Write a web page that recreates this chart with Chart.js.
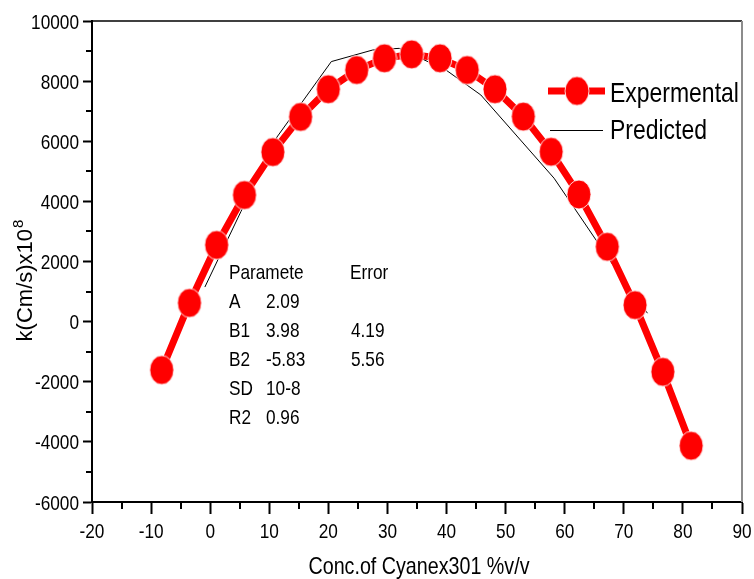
<!DOCTYPE html>
<html>
<head>
<meta charset="utf-8">
<script src="https://cdn.jsdelivr.net/npm/chart.js@4.4.1/dist/chart.umd.min.js"></script>
<style>
  body { margin: 0; background: #fff; }
  canvas { display: block; }
</style>
</head>
<body>
<canvas id="chart" width="754" height="579"></canvas>
<script>
// measured rate constants vs. Cyanex301 concentration
const expX = [-8.2, -3.5, 1.1, 5.8, 10.6, 15.3, 20.0, 24.8, 29.5, 34.1,
  38.9, 43.5, 48.2, 53.0, 57.7, 62.4, 67.2, 71.9, 76.6, 81.4];
const expY = [-1610, 620, 2550, 4210, 5640, 6810, 7730, 8370, 8760, 8890,
  8760, 8370, 7730, 6820, 5650, 4230, 2490, 550, -1670, -4130];

// model curve
const predX = [-0.9, 5.2, 11.3, 20.5, 27.5, 32.0, 39.9, 45.8, 58.2, 67.8, 74.0];
const predY = [1150, 3660, 6140, 8650, 9035, 9090, 8370, 7540, 4770, 1990, 280];

const xTicks = [-20, 90, 10];   // min, max, step
const yTicks = [-6000, 10000, 2000];

// fit parameters shown in the box
const paramRows = [
  ["A", "2.09", ""],
  ["B1", "3.98", "4.19"],
  ["B2", "-5.83", "5.56"],
  ["SD", "10-8", ""],
  ["R2", "0.96", ""],
];

const SANS = "'Liberation Sans', Arial, sans-serif";
const SQUEEZE = 0.82; // narrow face look

// text drawn horizontally squeezed
function narrowText(ctx, text, x, y, size, align) {
  ctx.save();
  ctx.translate(x, y);
  ctx.scale(SQUEEZE, 1);
  ctx.font = size + "px " + SANS;
  ctx.textAlign = align || "left";
  ctx.textBaseline = "alphabetic";
  ctx.fillText(text, 0, 0);
  ctx.restore();
}

// oval marker, a bit taller than wide
function makeDot(w, h) {
  const c = document.createElement("canvas");
  c.width = w + 2;
  c.height = h + 2;
  const g = c.getContext("2d");
  g.beginPath();
  g.ellipse(c.width / 2, c.height / 2, w / 2, h / 2, 0, 0, Math.PI * 2);
  g.fillStyle = "#ff0000";
  g.fill();
  g.strokeStyle = "rgba(255,255,255,0.85)";
  g.lineWidth = 1;
  g.stroke();
  return c;
}
const dot = makeDot(24, 29);

const toPoints = (xs, ys) => xs.map((x, i) => ({ x: x, y: ys[i] }));

// tick labels, minor ticks, frame, legend, titles and parameter box
const extras = {
  id: "extras",
  afterDraw(chart) {
    const ctx = chart.ctx;
    const area = chart.chartArea;
    const xs = chart.scales.x;
    const ys = chart.scales.y;
    ctx.save();

    // top and right frame
    ctx.lineWidth = 1.5;
    ctx.strokeStyle = "#000";
    ctx.beginPath();
    ctx.moveTo(area.left, area.top);
    ctx.lineTo(area.right, area.top);
    ctx.stroke();
    ctx.lineWidth = 2;
    ctx.strokeStyle = "#8c8c8c";
    ctx.beginPath();
    ctx.moveTo(area.right, area.top);
    ctx.lineTo(area.right, area.bottom);
    ctx.stroke();

    // minor ticks halfway between major ones
    ctx.strokeStyle = "#000";
    ctx.lineWidth = 2;
    for (let v = xTicks[0] + xTicks[2] / 2; v < xTicks[1]; v += xTicks[2]) {
      const px = Math.round(xs.getPixelForValue(v));
      ctx.beginPath();
      ctx.moveTo(px, area.bottom);
      ctx.lineTo(px, area.bottom + 7);
      ctx.stroke();
    }
    for (let v = yTicks[0] + yTicks[2] / 2; v < yTicks[1]; v += yTicks[2]) {
      const py = Math.round(ys.getPixelForValue(v));
      ctx.beginPath();
      ctx.moveTo(area.left - 6, py);
      ctx.lineTo(area.left, py);
      ctx.stroke();
    }

    // tick labels
    ctx.fillStyle = "#000";
    xs.ticks.forEach((t) => {
      narrowText(ctx, String(t.value), xs.getPixelForValue(t.value), area.bottom + 36, 21, "center");
    });
    ys.ticks.forEach((t) => {
      narrowText(ctx, String(t.value), area.left - 13, ys.getPixelForValue(t.value) + 7.5, 21, "right");
    });

    // x axis title
    narrowText(ctx, "Conc.of Cyanex301 %v/v", (area.left + area.right) / 2 + 2, 574, 24, "center");

    // y axis title with superscript
    ctx.translate(32, 281);
    ctx.rotate(-Math.PI / 2);
    ctx.textBaseline = "alphabetic";
    ctx.textAlign = "left";
    ctx.font = "22px " + SANS;
    const main = "k(Cm/s)x10";
    const mw = ctx.measureText(main).width;
    ctx.font = "15px " + SANS;
    const sw = ctx.measureText("8").width;
    const x0 = -(mw + sw) / 2;
    ctx.font = "22px " + SANS;
    ctx.fillText(main, x0, 0);
    ctx.font = "15px " + SANS;
    ctx.fillText("8", x0 + mw + 1, -9);
    ctx.setTransform(1, 0, 0, 1, 0, 0);

    // legend
    const ds = chart.data.datasets;
    const lx = area.right - 194;
    ctx.strokeStyle = ds[0].borderColor;
    ctx.lineWidth = ds[0].borderWidth;
    ctx.beginPath();
    ctx.moveTo(lx, 91);
    ctx.lineTo(lx + 57, 91);
    ctx.stroke();
    ctx.drawImage(dot, lx + 29 - dot.width / 2, 91 - dot.height / 2);
    narrowText(ctx, ds[0].label, lx + 62, 102, 28);
    ctx.strokeStyle = ds[1].borderColor;
    ctx.lineWidth = 1;
    ctx.beginPath();
    ctx.moveTo(lx + 2, 130.5);
    ctx.lineTo(lx + 55, 130.5);
    ctx.stroke();
    narrowText(ctx, ds[1].label, lx + 62, 138.5, 28);

    // parameter box
    narrowText(ctx, "Paramete", 229, 279, 21);
    narrowText(ctx, "Error", 350, 279, 21);
    paramRows.forEach((r, i) => {
      const by = 308 + i * 29;
      narrowText(ctx, r[0], 229, by, 21);
      narrowText(ctx, r[1], 266, by, 21);
      narrowText(ctx, r[2], 351, by, 21);
    });

    ctx.restore();
  },
};

new Chart(document.querySelector("#chart"), {
  type: "scatter",
  data: {
    datasets: [
      {
        label: "Expermental",
        data: toPoints(expX, expY),
        showLine: true,
        borderColor: "#ff0000",
        borderWidth: 7,
        pointStyle: dot,
        backgroundColor: "#ff0000",
      },
      {
        label: "Predicted",
        data: toPoints(predX, predY),
        showLine: true,
        borderColor: "#000",
        borderWidth: 1,
        pointRadius: 0,
      },
    ],
  },
  options: {
    responsive: false,
    animation: false,
    layout: { padding: { top: 21, right: 12, left: 0, bottom: 0 } },
    plugins: {
      legend: { display: false },
      tooltip: { enabled: false },
    },
    scales: {
      x: {
        type: "linear",
        min: xTicks[0],
        max: xTicks[1],
        ticks: { stepSize: xTicks[2], display: false },
        grid: { drawOnChartArea: false, tickLength: 12, tickWidth: 2, tickColor: "#000" },
        border: { color: "#000", width: 2 },
        afterFit(s) { s.height = 77; },
      },
      y: {
        min: yTicks[0],
        max: yTicks[1],
        ticks: { stepSize: yTicks[2], display: false },
        grid: { drawOnChartArea: false, tickLength: 9, tickWidth: 2, tickColor: "#000" },
        border: { color: "#000", width: 2 },
        afterFit(s) { s.width = 92; },
      },
    },
  },
  plugins: [extras],
});
</script>
</body>
</html>
